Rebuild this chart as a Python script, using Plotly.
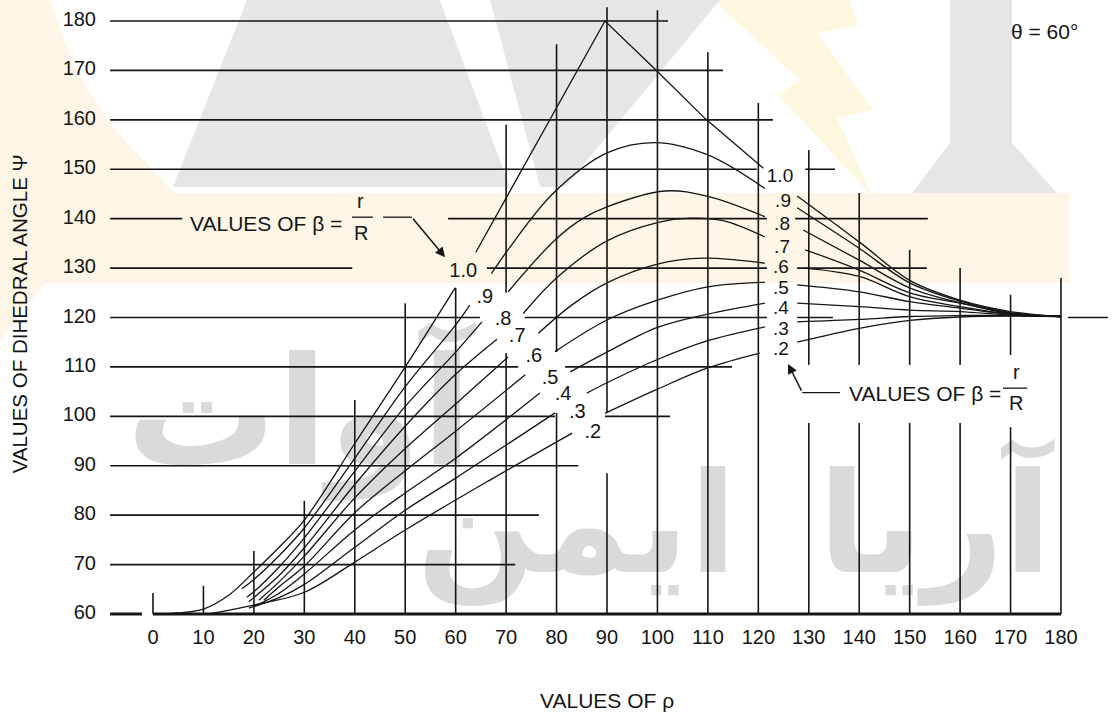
import plotly.graph_objects as go

# ---------------- data ----------------
RHO_TICKS = list(range(0, 181, 10))
PSI_TICKS = list(range(60, 181, 10))
BETA_LABELS = ["1.0", ".9", ".8", ".7", ".6", ".5", ".4", ".3", ".2"]

# left branch of each beta curve (rho, psi)
LEFT_RHO = [
    [0, 5, 10, 15, 20, 25, 30, 40, 50, 59.9],
    [17.6, 20, 25, 30, 40, 50, 60, 62.8],
    [18.6, 20, 25, 30, 40, 50, 60, 65.2],
    [19, 25, 30, 40, 50, 60, 68.2],
    [21, 25, 30, 40, 50, 60, 70.4],
    [22, 25, 30, 40, 50, 60, 73.8],
    [20, 25, 30, 40, 50, 60, 76.7],
    [19, 25, 30, 40, 50, 60, 79.7],
    [11, 20, 30, 40, 50, 66.8, 83.1],
]
LEFT_PSI = [
    [60, 60.2, 61, 63.8, 68.5, 73.5, 79, 94.5, 110, 126],
    [65.1, 67, 71.8, 77.4, 91.5, 106, 118.5, 122.5],
    [63.4, 64.5, 69.5, 75.4, 88.9, 102, 113, 119.1],
    [62.5, 67.8, 73.4, 86.2, 98, 108.5, 115.6],
    [62.8, 66.5, 71.7, 83.5, 93.5, 102.5, 112.0],
    [62.8, 65.5, 69.7, 80.5, 89, 97, 108.4],
    [61.5, 64.2, 68.1, 77, 84.5, 91.5, 104.7],
    [61.2, 63.3, 66.0, 73.5, 81, 87.5, 100.7],
    [60, 61.8, 64.4, 70.5, 77, 87.1, 96.6],
]
# middle branch (between the two label columns)
MID_RHO = [
    [64.0, 89.6, 99.5, 109.4, 121.0],
    [67.1, 70.8, 79.3, 90, 99.5, 110, 121.3],
    [70.4, 79.7, 85.3, 90, 101.5, 110, 121.3],
    [73.4, 80, 90, 100, 106.5, 113, 121.3],
    [76.4, 83, 90, 100, 109, 121.3],
    [79.7, 90, 100, 110, 121.3],
    [82.7, 90, 100, 110, 121.3],
    [86.0, 90, 100, 110, 121.3],
    [89.6, 100, 110, 120.3],
]
MID_PSI = [
    [133.2, 180, 170.3, 160.3, 150.2],
    [128.9, 134.3, 145.1, 153.3, 155.4, 152.9, 146.1],
    [125.2, 135.7, 140.1, 142.4, 145.6, 144.5, 140.4],
    [120.8, 128, 135.5, 139.2, 140.1, 139.6, 136.3],
    [116.8, 122.5, 127, 130.8, 132.0, 131.0],
    [113.1, 119.5, 123.5, 126.2, 127.1],
    [109.0, 113.0, 118.0, 120.7, 122.9],
    [104.7, 106.8, 111.5, 115.3, 118.1],
    [100.6, 105.5, 109.8, 112.8],
]
# right branch (converging to 120 deg at rho = 180)
RIGHT_RHO = [
    [127.7, 140, 150, 160, 170, 180],
    [127.7, 140, 150, 160, 170, 180],
    [128.9, 140, 150, 160, 170, 180],
    [129.3, 140, 150, 160, 170, 180],
    [129.3, 140, 150, 160, 170, 180],
    [127.7, 140, 150, 160, 170, 180],
    [127.7, 140, 150, 160, 170, 180],
    [127.7, 140, 150, 160, 170, 180],
    [127.7, 140, 150, 160, 170, 180],
]
RIGHT_PSI = [
    [144.6, 135.3, 127.5, 123.5, 121.2, 120.2],
    [142.2, 134.0, 127.0, 123.3, 121.0, 120.2],
    [137.7, 131.6, 126.0, 123.0, 120.9, 120.2],
    [133.7, 129.6, 125.0, 122.9, 120.8, 120.2],
    [130.0, 128.3, 124.2, 122.2, 120.7, 120.2],
    [126.6, 125.2, 123.2, 121.9, 120.6, 120.2],
    [122.9, 122.2, 121.5, 121.2, 120.5, 120.2],
    [119.1, 119.6, 120.2, 120.4, 120.4, 120.2],
    [115.0, 117.8, 119.4, 120.1, 120.3, 120.2],
]
# label positions (rho, psi)
LEFT_LABEL_RHO = [61.5, 65.8, 69.4, 72.2, 75.5, 78.7, 81.3, 84.1, 87.2]
LEFT_LABEL_PSI = [129.2, 123.9, 119.5, 116.1, 112.0, 107.6, 104.3, 100.7, 96.6]
RIGHT_LABEL_RHO = [124.3, 124.9, 124.7, 124.7, 124.5, 124.5, 124.5, 124.5, 124.5]
RIGHT_LABEL_PSI = [148.4, 143.4, 138.7, 134.1, 130.0, 125.8, 121.6, 117.4, 113.3]

# grid: horizontal lines (psi -> rho spans), vertical lines (rho -> psi spans)
H_GRID = {
    180: [(-8.5, 102.1)],
    170: [(-8.5, 113.0)],
    160: [(-8.5, 122.9)],
    150: [(-8.5, 119.7), (129.3, 135.2)],
    140: [(-8.5, 5.8), (58.5, 121.7), (127.3, 153.6)],
    130: [(-8.5, 39.5), (66.2, 121.7), (127.7, 153.4)],
    120: [(-8.5, 64.8), (73.7, 121.7), (127.7, 134.8), (181.4, 189.3)],
    110: [(-8.5, 72.4), (81.7, 114.8)],
    100: [(-8.5, 79.7), (89.6, 102.5)],
    90: [(-8.5, 84.3)],
    80: [(-8.5, 76.5)],
    70: [(-8.5, 71.8)],
}
BASE_SPANS = [(-8.5, -2.2), (0, 180)]
V_GRID = {
    0: [(60, 64.25)], 10: [(60, 65.7)], 20: [(60, 72.75)], 30: [(60, 82.9)],
    40: [(60, 103.3)], 50: [(60, 122.9)], 60: [(60, 126.0)],
    70: [(60, 112.8), (125.0, 159.0)],
    80: [(60, 100.7), (113.0, 175.3)],
    90: [(60, 88.5), (100.7, 182.8)],
    100: [(60, 182.2)], 110: [(60, 173.7)], 120: [(60, 163.4)],
    130: [(60, 98.65), (110.4, 153.9)],
    140: [(60, 98.65), (110.4, 145.2)],
    150: [(60, 98.65), (110.4, 133.7)],
    160: [(60, 98.65), (110.4, 130.0)],
    170: [(60, 97.8), (112.4, 124.6)],
    180: [(60, 128.0)],
}

WATERMARK_WORDS = ["آوات", "ایمن", "آریا"]

# ---------------- figure ----------------
W, H = 1113, 715
X_RANGE = [-30.33, 190.31]
Y_RANGE = [39.56, 184.25]
FONT = "Liberation Sans, Arial, Helvetica, sans-serif"
INK = "#151515"


def px2paper(pts):
    return [(x / W, 1 - y / H) for x, y in pts]


def path_of(pts):
    p = px2paper(pts)
    return "M " + " L ".join(f"{x:.4f},{y:.4f}" for x, y in p) + " Z"


fig = go.Figure()

# watermark text (drawn first so everything else sits on top)
fig.add_trace(go.Scatter(
    x=[29.0, 84.0, 155.0], y=[98.0, 75.5, 75.5], mode="text",
    text=WATERMARK_WORDS, textposition="middle center",
    textfont=dict(family="DejaVu Sans", size=[150, 140, 140], color="#dadada",
                  weight="bold"),
    hoverinfo="skip", cliponaxis=False))

# horizontal grid
hx, hy = [], []
for psi, spans in H_GRID.items():
    for a, b in spans:
        hx += [a, b, None]
        hy += [psi, psi, None]
fig.add_trace(go.Scatter(x=hx, y=hy, mode="lines",
                         line=dict(color=INK, width=1.6), hoverinfo="skip"))
# vertical grid
vx, vy = [], []
for rho, spans in V_GRID.items():
    for a, b in spans:
        vx += [rho, rho, None]
        vy += [a, b, None]
fig.add_trace(go.Scatter(x=vx, y=vy, mode="lines",
                         line=dict(color=INK, width=1.6), hoverinfo="skip"))
# base line psi = 60
bx, by = [], []
for a, b in BASE_SPANS:
    bx += [a, b, None]
    by += [60, 60, None]
fig.add_trace(go.Scatter(x=bx, y=by, mode="lines",
                         line=dict(color=INK, width=3), hoverinfo="skip"))

# beta curves
for i in range(len(BETA_LABELS)):
    for rr, pp, shape in ((LEFT_RHO[i], LEFT_PSI[i], "spline"),
                          (MID_RHO[i], MID_PSI[i], "linear" if i == 0 else "spline"),
                          (RIGHT_RHO[i], RIGHT_PSI[i], "spline")):
        fig.add_trace(go.Scatter(x=rr, y=pp, mode="lines",
                                 line=dict(color=INK, width=1.3, shape=shape, smoothing=1.0),
                                 hoverinfo="skip"))

# beta labels
fig.add_trace(go.Scatter(x=LEFT_LABEL_RHO, y=LEFT_LABEL_PSI,
                         mode="text", text=BETA_LABELS,
                         textfont=dict(family=FONT, size=20, color=INK),
                         hoverinfo="skip"))
fig.add_trace(go.Scatter(x=RIGHT_LABEL_RHO, y=RIGHT_LABEL_PSI,
                         mode="text", text=BETA_LABELS,
                         textfont=dict(family=FONT, size=19, color=INK),
                         hoverinfo="skip"))

# tick labels
fig.add_trace(go.Scatter(x=RHO_TICKS, y=[54.94] * len(RHO_TICKS), mode="text",
                         text=[str(v) for v in RHO_TICKS],
                         textfont=dict(family=FONT, size=20, color=INK), hoverinfo="skip"))
fig.add_trace(go.Scatter(x=[-11.3] * len(PSI_TICKS), y=PSI_TICKS, mode="text",
                         text=[str(v) for v in PSI_TICKS], textposition="middle left",
                         textfont=dict(family=FONT, size=20, color=INK), hoverinfo="skip"))

ann = []


def txt(x, y, s, size=20, **kw):
    d = dict(x=x, y=y, xref="x", yref="y", text=s, showarrow=False,
             font=dict(family=FONT, size=size, color=INK))
    d.update(kw)
    ann.append(d)


txt(176.8, 177.8, "θ = 60°", size=21)
txt(22.4, 139.1, "VALUES OF β =", size=21)
txt(41.2, 143.5, "r", size=20)
txt(41.2, 137.0, "R", size=20)
txt(153.0, 104.7, "VALUES OF β =", size=21)
txt(171.1, 108.9, "r", size=20)
txt(171.1, 102.6, "R", size=20)
txt(90.0, 42.4, "VALUES OF ρ", size=21, yanchor="middle")
ann.append(dict(x=-26.4, y=120.8, xref="x", yref="y", text="VALUES OF DIHEDRAL ANGLE Ψ",
                showarrow=False, textangle=-90,
                font=dict(family=FONT, size=20.5, color=INK)))
# arrows
ann.append(dict(x=57.9, y=132.2, ax=51.3, ay=140.3, xref="x", yref="y", axref="x", ayref="y",
                text="", showarrow=True, arrowhead=2, arrowsize=1.3, arrowwidth=1.5,
                arrowcolor=INK))
ann.append(dict(x=125.9, y=110.6, ax=128.7, ay=104.9, xref="x", yref="y", axref="x", ayref="y",
                text="", showarrow=True, arrowhead=2, arrowsize=1.3, arrowwidth=1.5,
                arrowcolor=INK))

shapes = []
# fraction bars and leaders
for x0, x1, y0 in ((39.45, 43.6, 140.3), (168.5, 173.3, 105.7),
                   (45.6, 51.3, 140.3), (128.7, 136.2, 104.8)):
    shapes.append(dict(type="line", xref="x", yref="y", x0=x0, x1=x1, y0=y0, y1=y0,
                       line=dict(color=INK, width=1.3)))

# watermark logo (background decoration)
GRAY = "#e6e6e6"
BEIGE = "#fdf5e5"
wm = [
    ([(0, 193), (1070, 193), (1070, 283), (0, 283)], BEIGE),
    ([(0, 0), (50, 0), (75, 70), (115, 130), (175, 193), (0, 193)], BEIGE),
    ([(0, 283), (45, 283), (0, 340)], BEIGE),
    ([(713, 0), (850, 0), (857, 25), (817, 33), (873, 110), (837, 118), (873, 197),
      (778, 95), (800, 80)], "#fef7df"),
    ([(247, 0), (720, 0), (565, 187), (173, 187)], GRAY),
    ([(440, 0), (490, 0), (540, 187), (510, 187)], "#ffffff"),
    ([(950, 0), (1012, 0), (1012, 143), (1057, 193), (912, 193), (950, 143)], GRAY),
]
for pts, col in wm:
    shapes.append(dict(type="path", xref="paper", yref="paper", path=path_of(pts),
                       fillcolor=col, line=dict(width=0), layer="below"))

fig.update_layout(
    width=W, height=H, margin=dict(l=0, r=0, t=0, b=0),
    paper_bgcolor="white", plot_bgcolor="rgba(0,0,0,0)",
    showlegend=False,
    xaxis=dict(range=X_RANGE, visible=False, fixedrange=True),
    yaxis=dict(range=Y_RANGE, visible=False, fixedrange=True),
    annotations=ann, shapes=shapes,
)

fig.write_html("out.html", config={"displayModeBar": False},
               post_script="document.body.style.margin='0';document.body.style.padding='0';")
